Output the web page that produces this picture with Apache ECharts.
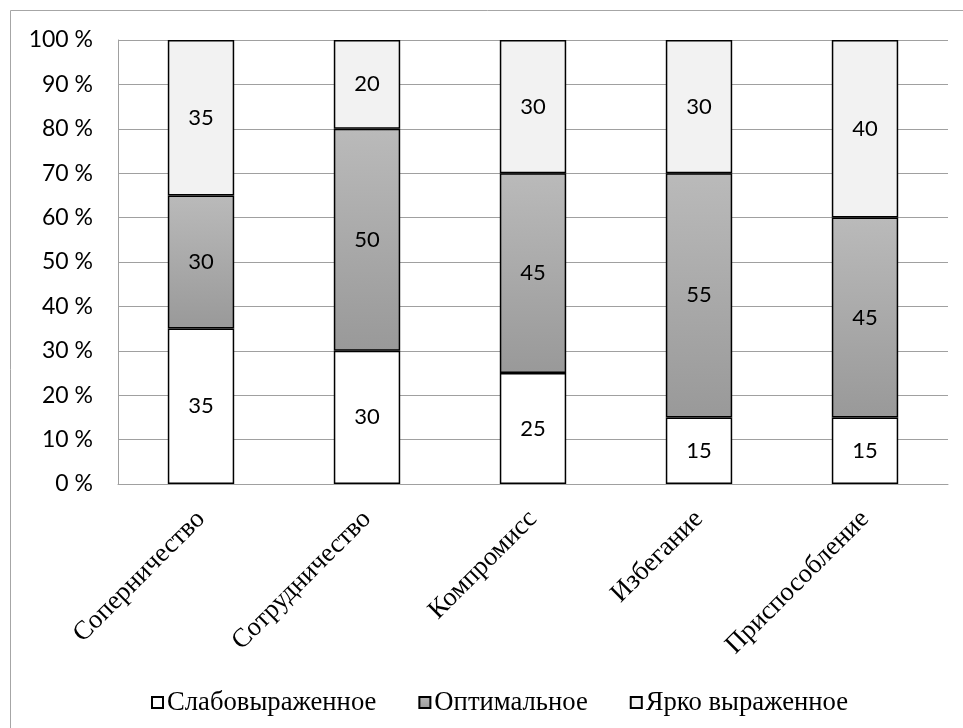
<!DOCTYPE html>
<html>
<head>
<meta charset="utf-8">
<script src="https://cdn.jsdelivr.net/npm/echarts@6/dist/echarts.min.js"></script>
<style>
html,body{margin:0;padding:0;background:#fff;}
#chart{width:963px;height:728px;}
</style>
</head>
<body>
<div id="chart"></div>
<script>
var categories = ['Соперничество', 'Сотрудничество', 'Компромисс', 'Избегание', 'Приспособление'];
var seriesNames = ['Слабовыраженное', 'Оптимальное', 'Ярко выраженное'];
var weakValues = [35, 30, 25, 15, 15];
var optimalValues = [30, 50, 45, 55, 45];
var brightValues = [35, 20, 30, 30, 40];
var yTicks = [0, 10, 20, 30, 40, 50, 60, 70, 80, 90, 100];

var chart = echarts.init(document.getElementById('chart'));
var labelStyle = {
  show: true,
  position: 'inside',
  fontFamily: 'Lato',
  fontSize: 22,
  color: '#000'
};
var grayGrad = new echarts.graphic.LinearGradient(0, 0, 0, 1, [
  {offset: 0, color: '#bababa'},
  {offset: 1, color: '#999999'}
]);
function mk(name, data, fill) {
  return {
    name: name,
    type: 'bar',
    stack: 'total',
    barWidth: '40%',
    data: data,
    label: labelStyle,
    itemStyle: {color: fill, borderColor: '#000', borderWidth: 1.5},
    emphasis: {disabled: true}
  };
}
chart.setOption({
  animation: false,
  backgroundColor: '#fff',
  graphic: [{
    type: 'rect',
    shape: {x: 10.5, y: 10.5, width: 1000, height: 1000},
    style: {fill: 'none', stroke: '#a6a6a6', lineWidth: 1},
    silent: true
  }],
  grid: {left: 118, right: 15, top: 40, bottom: 244, containLabel: false},
  legend: {
    left: 146,
    top: 684,
    icon: 'rect',
    itemWidth: 11,
    itemHeight: 11,
    itemGap: 42,
    textStyle: {fontFamily: 'Liberation Serif', fontSize: 26.67, color: '#000', padding: [0, 0, 0, -1]},
    data: seriesNames
  },
  xAxis: {
    type: 'category',
    data: categories,
    axisLine: {show: true, lineStyle: {color: '#a0a0a0', width: 1}},
    axisTick: {show: false},
    axisLabel: {
      rotate: 45,
      margin: 31,
      interval: 0,
      fontFamily: 'Liberation Serif',
      fontSize: 26.67,
      color: '#000'
    }
  },
  yAxis: {
    type: 'value',
    min: yTicks[0],
    max: yTicks[yTicks.length - 1],
    interval: 10,
    axisLine: {show: true, lineStyle: {color: '#a0a0a0', width: 1}},
    axisTick: {show: false},
    splitLine: {show: true, lineStyle: {color: '#a0a0a0', width: 1}},
    axisLabel: {
      formatter: '{value} %',
      margin: 25,
      fontFamily: 'Lato',
      fontSize: 23,
      color: '#000'
    }
  },
  series: [
    mk(seriesNames[0], weakValues, '#ffffff'),
    mk(seriesNames[1], optimalValues, grayGrad),
    mk(seriesNames[2], brightValues, '#f2f2f2')
  ]
});
</script>
</body>
</html>
